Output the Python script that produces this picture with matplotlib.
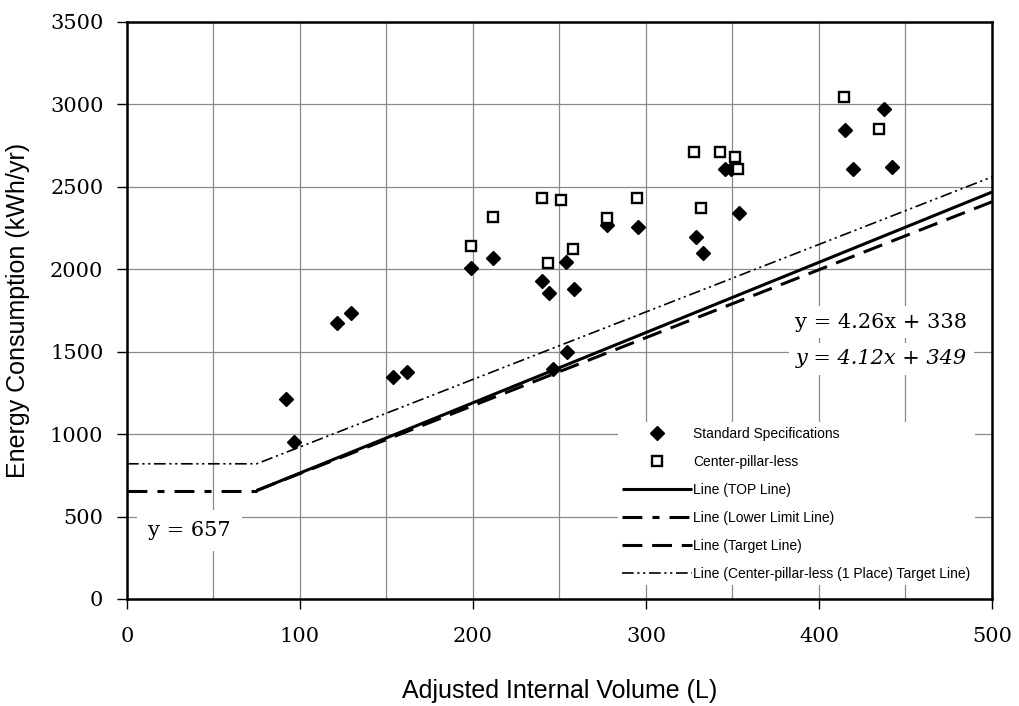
import matplotlib
matplotlib.use("Agg")
import matplotlib.pyplot as plt
import numpy as np
from matplotlib.ticker import MultipleLocator

# Standard specification models (adjusted volume L, kWh/yr)
std_x = [91.9, 96.7, 121.2, 129.3, 153.9, 161.7, 199.0, 211.8, 239.9, 243.7,
         246.0, 253.8, 254.5, 258.4, 277.3, 295.2, 328.9, 332.8, 345.5, 349.0,
         353.8, 415.0, 419.5, 437.8, 442.4]
std_y = [1213, 954, 1676, 1733, 1348, 1375, 2009, 2070, 1930, 1858,
         1393, 2044, 1496, 1880, 2268, 2254, 2197, 2100, 2606, 2610,
         2339, 2844, 2606, 2970, 2618]

# Center-pillar-less models
cpl_x = [198.6, 211.4, 239.7, 243.4, 250.7, 258.0, 277.3, 294.6, 327.6, 332.0,
         343.0, 351.4, 353.2, 414.5, 434.5]
cpl_y = [2143, 2315, 2430, 2036, 2420, 2122, 2309, 2430, 2709, 2373,
         2709, 2678, 2606, 3046, 2852]

# Reference lines
top_slope, top_intercept = 4.26, 338
target_slope, target_intercept = 4.12, 349
lower_limit = 657
knee_x = 75
x_max = 500
cpl_target_x = [0, 75, 500]
cpl_target_y = [820, 820, 2560]

fig = plt.figure(figsize=(10.2, 7.06), dpi=100)
ax = fig.add_axes([0.1245, 0.1516, 0.848, 0.8173])

serif = "DejaVu Serif"
sans = "Liberation Sans"

line_x = np.array([knee_x, x_max])

h_std, = ax.plot(std_x, std_y, linestyle="none", marker="D", markersize=7.6,
                 color="black", zorder=5, label="Standard Specifications")
h_cpl, = ax.plot(cpl_x, cpl_y, linestyle="none", marker="s", markersize=6.5,
                 markerfacecolor="white", markeredgecolor="black",
                 markeredgewidth=1.7, zorder=6, label="Center-pillar-less")
h_top, = ax.plot(line_x, top_slope * line_x + top_intercept, color="black",
                 lw=2.2, solid_capstyle="butt", zorder=4, label="Line (TOP Line)")
h_low, = ax.plot([0, knee_x], [lower_limit, lower_limit], color="black", lw=2.2,
                 dashes=(6.5, 3.3, 2.3, 3.3), zorder=4,
                 label="Line (Lower Limit Line)")
h_tgt, = ax.plot(line_x, target_slope * line_x + target_intercept, color="black",
                 lw=2.2, dashes=(6.5, 3.2), zorder=4, label="Line (Target Line)")
h_cpt, = ax.plot(cpl_target_x, cpl_target_y, color="black", lw=1.2,
                 dashes=(7, 2.2, 1.3, 2.2, 1.3, 2.2), zorder=4,
                 label="Line (Center-pillar-less (1 Place) Target Line)")

ax.set_xlim(0, 500)
ax.set_ylim(0, 3500)
ax.xaxis.set_major_locator(MultipleLocator(100))
ax.xaxis.set_minor_locator(MultipleLocator(50))
ax.yaxis.set_major_locator(MultipleLocator(500))
ax.grid(True, which="major", color="#8a8a8a", lw=0.9)
ax.grid(True, which="minor", axis="x", color="#8a8a8a", lw=0.9)
ax.tick_params(which="minor", length=0)
ax.tick_params(which="major", direction="out", length=7, width=1.0,
               pad=10, labelsize=15)
ax.tick_params(axis="x", which="major", pad=13)
for lab in ax.get_xticklabels() + ax.get_yticklabels():
    lab.set_fontfamily(serif)
for sp in ax.spines.values():
    sp.set_linewidth(1.8)
    sp.set_color("black")
ax.set_axisbelow(True)

ax.set_xlabel("Adjusted Internal Volume (L)", fontsize=18, family=sans, labelpad=24)
ax.set_ylabel("Energy Consumption (kWh/yr)", fontsize=18, family=sans, labelpad=14)

box = dict(facecolor="white", edgecolor="none", pad=5)
ax.text(0.872, 0.480, f"y = {top_slope}x + {top_intercept}", transform=ax.transAxes,
        ha="center", va="center", fontsize=15, family=serif, bbox=box, zorder=7)
ax.text(0.872, 0.416, f"y = {target_slope}x + {target_intercept}",
        transform=ax.transAxes, ha="center", va="center", fontsize=15,
        family=serif, style="italic", bbox=box, zorder=7)
ax.text(0.072, 0.119, f"y = {lower_limit}", transform=ax.transAxes,
        ha="center", va="center", fontsize=15, family=serif,
        bbox=dict(facecolor="white", edgecolor="none", pad=8), zorder=7)

leg = ax.legend(handles=[h_std, h_cpl, h_top, h_low, h_tgt, h_cpt],
                loc="upper left", bbox_to_anchor=(0.568, 0.306),
                frameon=True, framealpha=1, facecolor="white", edgecolor="none",
                fancybox=False, prop=dict(family=sans, size=10),
                handlelength=5.0, handletextpad=0.1, labelspacing=1.01,
                borderpad=0.3, borderaxespad=0)
leg.set_zorder(8)

fig.savefig("out.png", dpi=100)
